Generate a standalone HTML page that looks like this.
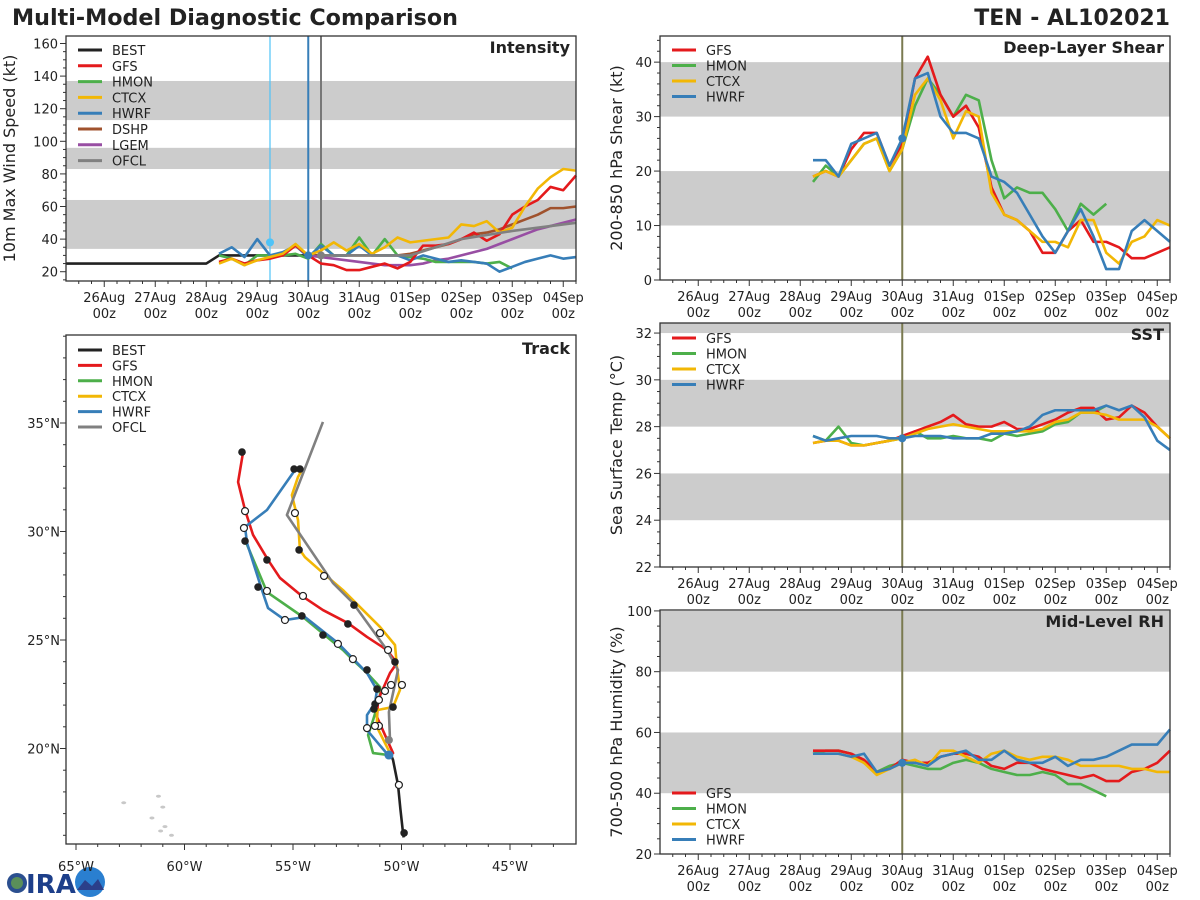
<!DOCTYPE html>
<html><head><meta charset="utf-8"><style>
html,body{margin:0;padding:0;background:#fff;width:1200px;height:900px;overflow:hidden}
svg text{font-family:"DejaVu Sans","Liberation Sans",sans-serif;fill:#222}
</style></head><body>
<svg id="c" width="1200" height="900" xmlns="http://www.w3.org/2000/svg">
<text x="12" y="25" font-size="22" font-weight="bold" textLength="446" lengthAdjust="spacingAndGlyphs">Multi-Model Diagnostic Comparison</text>
<text x="1170" y="25" font-size="22" font-weight="bold" text-anchor="end">TEN - AL102021</text>
<g>
<circle cx="17" cy="883" r="10" fill="#2b4f8f"/><circle cx="17" cy="883" r="6" fill="#5a8f5a"/>
<text x="26" y="893" font-size="26" font-weight="bold" fill="#1d3f8a" style="fill:#1d3f8a">IRA</text>
<circle cx="90" cy="882" r="15" fill="#2a7fd0"/><path d="M77,890 L85,880 L92,886 L98,879 L104,890 Z" fill="#2b3f8a"/>
</g>
</svg>
<script>
// ---------- data ----------
const dayTicks = ["26Aug","27Aug","28Aug","29Aug","30Aug","31Aug","01Sep","02Sep","03Sep","04Sep"];
const modelStartDay = 2.25; // 6-hourly from 28Aug 06z
const intGFS  = [26,28,25,27,28,30,36,30,25,24,21,21,23,25,22,26,36,36,37,40,44,39,43,55,60,64,72,70,79];
const intHMON = [30,28,24,30,30,30,31,28,37,30,30,41,30,40,30,29,28,26,26,26,26,25,26,22];
const intCTCX = [25,28,24,27,29,31,37,30,33,38,33,37,31,35,41,38,39,40,41,49,48,51,44,47,60,71,78,83,82];
const intHWRF = [31,35,29,40,30,32,36,29,36,30,30,36,30,30,30,27,30,28,26,27,26,25,20,23,26,28,30,28,29];
const dshpStartDay = 4.0;
const intDSHP = [30,30,30,30,30,30,30,30,31,33,35,37,40,43,44,46,49,52,55,59,59,60];
const intLGEM = [30,29,28,27,26,25,24,24,24,25,27,28,30,32,34,37,40,43,46,48,50,52];
const ofclDays = [4.25,4.5,5.0,5.5,6.0,6.5,7.0,8.0,9.0,9.25];
const intOFCL  = [30,30,30,30,30,35,40,45,49,50];
const bestDays = [-0.75,2.0,2.25,4.0,4.25];
const intBEST  = [25,25,30,30,30];

const shGFS  = [19,20,19,24,27,27,21,25,37,41,34,30,32,28,17,12,11,9,5,5,9,11,7,7,6,4,4,5,6];
const shHMON = [18,21,19,22,25,26,20,24,32,37,34,30,34,33,22,15,17,16,16,13,9,14,12,14];
const shCTCX = [19,20,19,22,25,26,20,24,34,37,33,26,31,30,16,12,11,9,7,7,6,11,11,5,3,7,8,11,10];
const shHWRF = [22,22,19,25,26,27,21,26,37,38,30,27,27,26,19,18,16,12,8,5,9,13,8,2,2,9,11,9,7];

const sstGFS  = [27.3,27.4,27.4,27.2,27.2,27.3,27.4,27.6,27.8,28.0,28.2,28.5,28.1,28.0,28.0,28.2,27.9,27.9,28.1,28.3,28.6,28.8,28.8,28.3,28.4,28.9,28.6,28.0,27.5];
const sstHMON = [27.6,27.4,28.0,27.3,27.2,27.3,27.4,27.5,27.8,27.5,27.5,27.6,27.5,27.5,27.4,27.7,27.6,27.7,27.8,28.1,28.2,28.6,28.6,28.9];
const sstCTCX = [27.3,27.4,27.4,27.2,27.2,27.3,27.4,27.5,27.7,27.9,28.0,28.1,28.0,27.9,27.8,27.8,27.8,27.8,27.9,28.2,28.3,28.6,28.6,28.5,28.3,28.3,28.3,28.0,27.5];
const sstHWRF = [27.6,27.4,27.5,27.6,27.6,27.6,27.5,27.5,27.6,27.6,27.6,27.5,27.5,27.5,27.7,27.7,27.8,28.0,28.5,28.7,28.7,28.7,28.7,28.9,28.7,28.9,28.4,27.4,27.0];

const rhGFS  = [54,54,54,53,51,47,48,51,50,50,52,53,53,52,49,48,50,50,48,47,46,45,46,44,44,47,48,50,54];
const rhHMON = [53,54,54,53,50,47,49,50,49,48,48,50,51,50,48,47,46,46,47,46,43,43,41,39];
const rhCTCX = [53,53,53,52,50,46,48,50,51,49,54,54,52,50,53,54,52,51,52,52,51,49,49,49,49,48,48,47,47];
const rhHWRF = [53,53,53,52,53,47,48,50,50,49,52,53,54,51,51,54,51,50,50,52,49,51,51,52,54,56,56,56,61];

// track lon/lat
const trBESTlon=[-49.9,-49.93,-50.05,-50.16,-50.39,-50.5], trBESTlat=[15.9,16.11,17.2,18.32,19.47,19.75];
const trGFSlon=[-50.58,-50.39,-51.13,-51.08,-50.53,-50.21,-50.67,-51.59,-52.47,-53.62,-54.59,-55.6,-56.15,-56.84,-57.21,-57.53,-57.3];
const trGFSlat=[19.7,19.79,21.45,22.24,23.48,23.94,24.54,25.14,25.78,26.38,27.03,27.86,28.69,29.84,30.99,32.28,33.66];
const trHMONlon=[-50.62,-51.31,-51.54,-51.31,-50.99,-50.99,-51.59,-52.24,-52.7,-53.43,-54.54,-56.2,-57.21];
const trHMONlat=[19.7,19.79,20.62,21.31,22.37,22.83,23.48,24.08,24.54,25.14,26.06,27.21,29.61];
const trCTCXlon=[-50.44,-51.13,-51.13,-50.39,-50.07,-50.21,-50.3,-50.99,-52.7,-53.62,-54.45,-54.68,-54.77,-55.05,-54.77,-54.59];
const trCTCXlat=[19.61,20.99,21.77,21.91,22.7,23.76,24.77,25.6,27.3,28.09,28.82,29.15,30.53,31.68,32.51,32.83];
const trHWRFlon=[-50.62,-51.59,-51.59,-51.22,-51.13,-51.59,-52.93,-54.45,-55.37,-56.15,-56.43,-57.12,-57.21,-56.2,-54.91];
const trHWRFlat=[19.7,20.85,21.54,22.1,22.7,23.48,24.86,26.06,25.92,26.47,27.3,29.47,30.21,30.99,32.83];
const trOFCLlon=[-50.53,-50.58,-50.16,-50.67,-52.24,-53.16,-55.28,-53.62];
const trOFCLlat=[20.39,21.68,23.62,24.54,26.71,27.63,30.76,35.05];
const dotFillLon=[-57.35,-54.95,-54.68,-54.72,-57.21,-56.2,-56.61,-53.62,-52.47,-54.59,-52.19,-51.59,-50.3,-51.13,-51.22,-50.39,-51.27,-49.88];
const dotFillLat=[33.66,32.88,32.88,29.15,29.56,28.69,27.44,25.23,25.74,26.11,26.61,23.62,23.99,22.74,22.05,21.91,21.82,16.11];
const dotOpenLon=[-57.21,-54.91,-57.26,-56.2,-55.37,-54.54,-53.57,-52.93,-52.24,-50.99,-50.62,-50.48,-49.98,-50.76,-51.04,-51.04,-51.59,-51.22,-50.12];
const dotOpenLat=[30.94,30.85,30.16,27.26,25.92,27.03,27.95,24.82,24.12,25.32,24.54,22.93,22.93,22.65,22.24,21.04,20.94,21.04,18.32];

const C={BEST:"#222222",GFS:"#e41a1c",HMON:"#4daf4a",CTCX:"#f2b705",HWRF:"#377eb8",DSHP:"#a0522d",LGEM:"#984ea3",OFCL:"#808080"};
const NS="http://www.w3.org/2000/svg";
const svg=document.getElementById('c');
function el(tag,attrs,parent){const e=document.createElementNS(NS,tag);for(const k in attrs)e.setAttribute(k,attrs[k]);(parent||svg).appendChild(e);return e;}
function txt(s,attrs,parent){const t=el('text',attrs,parent);t.textContent=s;return t;}

function panel(o){
  const g=el('g',{});
  
  
  const X=d=>o.x0+(d-(-0.75))*(o.x1-o.x0)/10;
  const Y=v=>o.y1-(v-o.vmin)*(o.y1-o.y0)/(o.vmax-o.vmin);
  o.bands.forEach(b=>{const r=el('rect',{x:o.x0,y:Y(Math.min(b[1],o.vmax)),width:o.x1-o.x0,height:Y(b[0])-Y(Math.min(b[1],o.vmax)),fill:'#cccccc'},g);
    });
  for(let v=o.tmin;v<=o.vmax+1e-6;v+=o.minor){const y=Y(v);const q=v/o.major;const maj=Math.abs(q-Math.round(q))<1e-6;
    el('line',{x1:o.x0,x2:o.x0-(maj?6:3),y1:y,y2:y,stroke:'#333','stroke-width':1},g);
    if(maj){const t=txt(String(Math.round(v)),{x:o.x0-8,y:y+5,'font-size':13,'text-anchor':'end'},g);}}
  for(let d=-0.5;d<=9.25;d+=0.25){const x=X(d);const maj=Math.abs(d-Math.round(d))<1e-6;
    el('line',{x1:x,x2:x,y1:o.y1,y2:o.y1+(maj?6:3),stroke:'#333','stroke-width':1},g);
    if(maj&&d>=0){const i=Math.round(d);const t=txt(dayTicks[i],{x:x,y:o.y1+21,'font-size':13,'text-anchor':'middle'},g);
      txt('00z',{x:x,y:o.y1+37,'font-size':13,'text-anchor':'middle'},g);}}
  const yt=txt(o.ytitle,{x:0,y:0,'font-size':16,'text-anchor':'middle',transform:`translate(${o.yl},${(o.y0+o.y1)/2}) rotate(-90)`},g);
  
  const tt=txt(o.title,{x:o.x1-6,y:o.y0+17,'font-size':16,'font-weight':'bold','text-anchor':'end'},g);
  
  o.X=X;o.Y=Y;o.g=g;return o;
}
function series(p,days,vals,color,name,w){
  const pts=vals.map((v,i)=>p.X(days(i))+','+p.Y(v)).join(' ');
  const l=el('polyline',{points:pts,fill:'none',stroke:color,'stroke-width':w||2.6,'stroke-linejoin':'round'},p.g);
  
}
const six=i=>modelStartDay+i*0.25;
function frame(p){const r=el('rect',{x:p.x0,y:p.y0,width:p.x1-p.x0,height:p.y1-p.y0,fill:'none',stroke:'#333','stroke-width':1.3},p.g);
  }
function legend(g,x,y,names,dy){names.forEach((n,i)=>{const lg=el('g',{},g);
  el('line',{x1:x,x2:x+24,y1:y+i*dy,y2:y+i*dy,stroke:C[n],'stroke-width':3},lg);txt(n,{x:x+34,y:y+i*dy+5,'font-size':13},lg);});}

// Intensity
const pI=panel({name:'intensity-panel',x0:66,x1:576,y0:36,y1:281,vmin:14.3,vmax:164.6,tmin:15,major:20,minor:5,bands:[[34,64],[83,96],[113,137]],ytitle:'10m Max Wind Speed (kt)',yl:15,title:'Intensity'});
[[3.25,'#4fc3f7'],[4.0,'#377eb8'],[4.25,'#777']].forEach(a=>{const l=el('line',{x1:pI.X(a[0]),x2:pI.X(a[0]),y1:36,y2:281,stroke:a[1],'stroke-width':a[1]=='#4fc3f7'?1.2:2},pI.g);});
series(pI,i=>bestDays[i],intBEST,C.BEST,'best-line');
series(pI,i=>dshpStartDay+i*0.25,intDSHP,C.DSHP,'dshp-line');
series(pI,i=>dshpStartDay+i*0.25,intLGEM,C.LGEM,'lgem-line');
series(pI,six,intHMON,C.HMON,'hmon-line');
series(pI,six,intHWRF,C.HWRF,'hwrf-line');
series(pI,six,intGFS,C.GFS,'gfs-line');
series(pI,six,intCTCX,C.CTCX,'ctcx-line');
series(pI,i=>ofclDays[i],intOFCL,C.OFCL,'ofcl-line');
el('circle',{cx:pI.X(3.25),cy:pI.Y(38),r:4,fill:'#4fc3f7'},pI.g);
el('circle',{cx:pI.X(4.0),cy:pI.Y(30),r:4,fill:C.HWRF},pI.g);
el('circle',{cx:pI.X(4.25),cy:pI.Y(30),r:4,fill:C.OFCL},pI.g);
frame(pI);
legend(pI.g,78,50,['BEST','GFS','HMON','CTCX','HWRF','DSHP','LGEM','OFCL'],15.8);

// Shear
const pS=panel({name:'shear-panel',x0:660,x1:1170,y0:36,y1:280,vmin:0,vmax:44.8,tmin:0,major:10,minor:2,bands:[[10,20],[30,40]],ytitle:'200-850 hPa Shear (kt)',yl:622,title:'Deep-Layer Shear'});
el('line',{x1:pS.X(4),x2:pS.X(4),y1:36,y2:280,stroke:'#7a7a50','stroke-width':2},pS.g);
series(pS,six,shHMON,C.HMON,'hmon-line');series(pS,six,shGFS,C.GFS,'gfs-line');series(pS,six,shCTCX,C.CTCX,'ctcx-line');series(pS,six,shHWRF,C.HWRF,'hwrf-line');
el('circle',{cx:pS.X(4),cy:pS.Y(26),r:4,fill:C.HWRF},pS.g);
frame(pS);legend(pS.g,672,50,['GFS','HMON','CTCX','HWRF'],15.5);

// SST
const pT=panel({name:'sst-panel',x0:660,x1:1170,y0:323,y1:567,vmin:22,vmax:32.43,tmin:22,major:2,minor:0.5,bands:[[24,26],[28,30],[32,34]],ytitle:'Sea Surface Temp (°C)',yl:622,title:'SST'});
el('line',{x1:pT.X(4),x2:pT.X(4),y1:323,y2:567,stroke:'#7a7a50','stroke-width':2},pT.g);
series(pT,six,sstHMON,C.HMON,'hmon-line');series(pT,six,sstGFS,C.GFS,'gfs-line');series(pT,six,sstCTCX,C.CTCX,'ctcx-line');series(pT,six,sstHWRF,C.HWRF,'hwrf-line');
el('circle',{cx:pT.X(4),cy:pT.Y(27.5),r:4,fill:C.HWRF},pT.g);
frame(pT);legend(pT.g,672,338,['GFS','HMON','CTCX','HWRF'],15.5);

// RH
const pR=panel({name:'rh-panel',x0:660,x1:1170,y0:610,y1:854,vmin:20,vmax:100.3,tmin:20,major:20,minor:5,bands:[[40,60],[80,100]],ytitle:'700-500 hPa Humidity (%)',yl:622,title:'Mid-Level RH'});
el('line',{x1:pR.X(4),x2:pR.X(4),y1:610,y2:854,stroke:'#7a7a50','stroke-width':2},pR.g);
series(pR,six,rhHMON,C.HMON,'hmon-line');series(pR,six,rhGFS,C.GFS,'gfs-line');series(pR,six,rhCTCX,C.CTCX,'ctcx-line');series(pR,six,rhHWRF,C.HWRF,'hwrf-line');
el('circle',{cx:pR.X(4),cy:pR.Y(50),r:4,fill:C.HWRF},pR.g);
frame(pR);legend(pR.g,672,793,['GFS','HMON','CTCX','HWRF'],15.5);

// Track
const tg=el('g',{});
const LX=lon=>76+(lon+65)*21.7, LY=lat=>423-(lat-35)*21.7;
const tx0=66,tx1=576,ty0=335,ty1=844;
[[-62.8,17.5],[-61.2,17.8],[-61,17.3],[-61.5,16.8],[-61.1,16.2],[-60.9,16.4],[-60.6,16.0]].forEach(p=>{el('ellipse',{cx:LX(p[0]),cy:LY(p[1]),rx:2.5,ry:1.5,fill:'#c8c8c8'},tg);});
function track(lon,lat,color,name,w){const l=el('polyline',{points:lon.map((v,i)=>LX(v)+','+LY(lat[i])).join(' '),fill:'none',stroke:color,'stroke-width':w||2.6,'stroke-linejoin':'round'},tg);}
track(trBESTlon,trBESTlat,C.BEST,'best-track');
track(trHMONlon,trHMONlat,C.HMON,'hmon-track');
track(trGFSlon,trGFSlat,C.GFS,'gfs-track');
track(trCTCXlon,trCTCXlat,C.CTCX,'ctcx-track');
track(trHWRFlon,trHWRFlat,C.HWRF,'hwrf-track');
track(trOFCLlon,trOFCLlat,C.OFCL,'ofcl-track');
dotFillLon.forEach((v,i)=>el('circle',{cx:LX(v),cy:LY(dotFillLat[i]),r:3.8,fill:'#222'},tg));
dotOpenLon.forEach((v,i)=>el('circle',{cx:LX(v),cy:LY(dotOpenLat[i]),r:3.5,fill:'#fff',stroke:'#222','stroke-width':1.2},tg));
el('circle',{cx:LX(-50.58),cy:LY(20.39),r:4,fill:C.OFCL},tg);
el('circle',{cx:LX(-50.58),cy:LY(19.7),r:4.5,fill:C.HWRF},tg);
for(let lon=-65;lon<=-43;lon++){const x=LX(lon);const maj=lon%5==0;el('line',{x1:x,x2:x,y1:ty1,y2:ty1+(maj?6:3),stroke:'#333'},tg);
  if(maj){const t=txt((-lon)+'°W',{x:x,y:ty1+27,'font-size':13,'text-anchor':'middle'},tg);}}
for(let lat=16;lat<=39;lat++){const y=LY(lat);const maj=lat%5==0;el('line',{x1:tx0,x2:tx0-(maj?6:3),y1:y,y2:y,stroke:'#333'},tg);
  if(maj){const t=txt(lat+'°N',{x:tx0-6,y:y+5,'font-size':13,'text-anchor':'end'},tg);}}
el('rect',{x:tx0,y:ty0,width:tx1-tx0,height:ty1-ty0,fill:'none',stroke:'#333','stroke-width':1.3},tg);
txt('Track',{x:tx1-6,y:ty0+19,'font-size':16,'font-weight':'bold','text-anchor':'end'},tg);
legend(tg,78,350,['BEST','GFS','HMON','CTCX','HWRF','OFCL'],15.4);
</script>
</body></html>
